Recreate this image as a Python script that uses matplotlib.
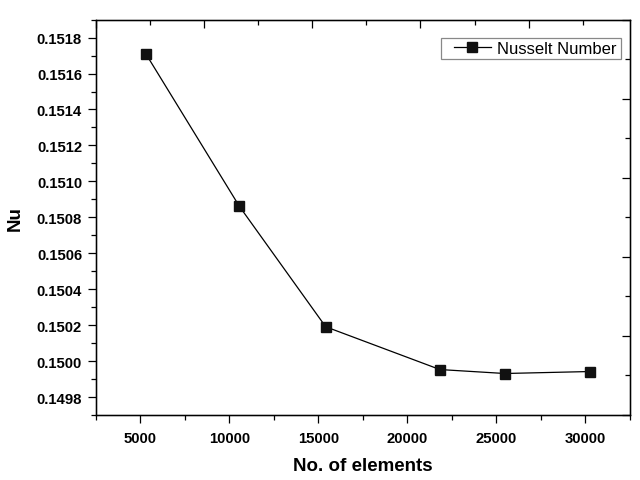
import matplotlib
matplotlib.use('Agg')
import matplotlib.pyplot as plt
from matplotlib.patches import Rectangle
from matplotlib.ticker import MultipleLocator, FormatStrFormatter, NullFormatter

plt.rcParams['font.family'] = ['Liberation Sans', 'DejaVu Sans']

# mesh independence data
elements = [5300, 10560, 15410, 21830, 25480, 30260]
nusselt = [0.15171, 0.150861, 0.150191, 0.149953, 0.149931, 0.149942]
series_name = 'Nusselt Number'

fig = plt.figure(figsize=(6.4, 4.81), dpi=100)
ax = fig.add_axes([0.15, 0.1351, 0.834, 0.822])

ax.plot(elements, nusselt, color='black', linewidth=0.9, marker='s',
        markersize=6.5, markerfacecolor='#111111', markeredgecolor='#111111',
        label=series_name)

ax.set_xlim(2500, 32500)
ax.set_ylim(0.1497, 0.1519)
ax.xaxis.set_major_locator(MultipleLocator(5000))
ax.xaxis.set_minor_locator(MultipleLocator(2500))
ax.yaxis.set_major_locator(MultipleLocator(0.0002))
ax.yaxis.set_minor_locator(MultipleLocator(0.0001))
ax.yaxis.set_major_formatter(FormatStrFormatter('%.4f'))
ax.tick_params(which='major', direction='out', length=6, width=0.9, labelsize=10.7, pad=4)
ax.tick_params(which='minor', direction='out', length=3.5, width=0.9)
ax.tick_params(axis='x', pad=5.5)
for lab in ax.get_xticklabels() + ax.get_yticklabels():
    lab.set_fontweight('bold')
for sp in ax.spines.values():
    sp.set_linewidth(1.0)

ax.set_xlabel('No. of elements', fontsize=13.5, fontweight='bold', labelpad=9)
ax.set_ylabel('Nu', fontsize=13.5, fontweight='bold', labelpad=9)

# top and right axes with their own inward ticks, like Origin
top = ax.twiny()
top.set_xlim(0, 4.935)
top.xaxis.set_major_locator(MultipleLocator(1))
top.xaxis.set_minor_locator(MultipleLocator(0.5))
top.xaxis.set_major_formatter(NullFormatter())
top.tick_params(which='major', direction='in', length=6, width=0.9)
top.tick_params(which='minor', direction='in', length=3.5, width=0.9)

right = ax.twinx()
right.set_ylim(0, 5)
right.yaxis.set_major_locator(MultipleLocator(1))
right.yaxis.set_minor_locator(MultipleLocator(0.5))
right.yaxis.set_major_formatter(NullFormatter())
right.tick_params(which='major', direction='in', length=6, width=0.9)
right.tick_params(which='minor', direction='in', length=3.5, width=0.9)

# legend box drawn separately so the left padding matches the original
ax.add_patch(Rectangle((0.647, 0.9006), 0.336, 0.0534, transform=ax.transAxes,
                       facecolor='white', edgecolor='#888888', linewidth=0.9,
                       zorder=4))
leg = ax.legend(loc='center right', bbox_to_anchor=(0.976, 0.927), borderaxespad=0,
                fontsize=12, frameon=False, handlelength=2.2, borderpad=0,
                handletextpad=0.4)
leg.set_zorder(5)

fig.savefig('out.png', dpi=100)
